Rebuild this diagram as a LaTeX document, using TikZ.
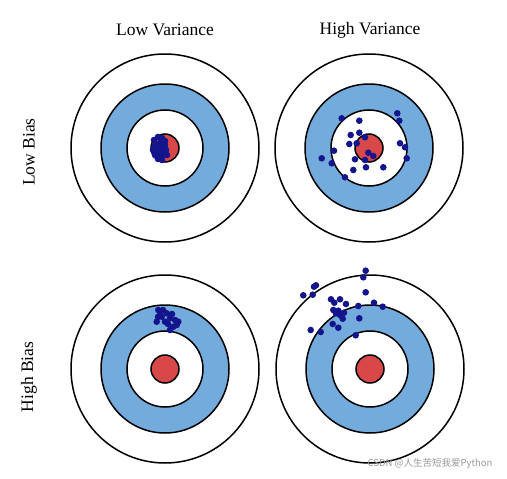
\documentclass[tikz,border=0pt]{standalone}
\usepackage{fontspec}
\setmainfont{Liberation Serif}
\newfontfamily\cjk{Noto Sans CJK SC}
\definecolor{ringblue}{HTML}{74ABDD}
\definecolor{bullred}{HTML}{D84848}
\definecolor{dotblue}{HTML}{14148C}
\definecolor{wmgray}{HTML}{9A9A9A}
\newcommand{\drawtarget}[2]{%
  \fill[white] (#1,#2) circle (94);
  \draw[ring] (#1,#2) circle (94);
  \filldraw[ring,fill=ringblue] (#1,#2) circle (64);
  \filldraw[ring,fill=white] (#1,#2) circle (38);
  \filldraw[ring,fill=bullred] (#1,#2) circle (14);
}
\begin{document}
\begin{tikzpicture}[x=1pt,y=-1pt,
  ring/.style={line width=1.5pt,draw=black},
  shot/.style={fill=dotblue},
  lbl/.style={font=\fontsize{17.5}{20}\selectfont,inner sep=0pt}]
\useasboundingbox[fill=white] (0,0) rectangle (507,479);
% titles
\node[lbl] (lv) at (165,30) {Low Variance};
\node[lbl] (hv) at (370,30) {High Variance};
\node[lbl,rotate=90] (lb) at (29,152) {Low Bias};
\node[lbl,rotate=90] (hb) at (29,377) {High Bias};
% targets
\drawtarget{165}{148}
\drawtarget{369}{148}
\drawtarget{165}{369}
\drawtarget{370}{369}
% top-left: tight cluster
\foreach \x/\y in {154/140,158/137,162/138,165/141,156/145,160/143,164/146,153/150,157/151,161/150,166/150,155/155,159/156,163/155,167/155,158/159,162/160,154/147,160/147,165/145}
  \fill[shot] (\x,\y) circle (3.3);
% top-right: spread cluster
\foreach \x/\y in {341.7/118.3,359.3/120.7,397.3/113.3,399.3/120.7,350.7/135,359.3/132.7,365/137.3,349.3/144,356.7/143.3,400/143.3,405/147.3,334/150.7,368.3/152.7,373.3/156,321.7/158.3,406.7/158.3,355/159.3,365/160,331.7/163.3,366/167.3,383.3/167.3,353.3/170,345/177.3}
  \fill[shot] (\x,\y) circle (3.3);
% bottom-left: tight, off centre
\foreach \x/\y in {158.3/310,156.7/321.7,166.7/313.3,170/318.3,175/320,178.3/321.7,173.3/326.7,170/330,161.7/316.7,160/315,165/321.7,176.7/325,163/310,158/317,168/324,172/314}
  \fill[shot] (\x,\y) circle (3.3);
% bottom-right: spread, off centre
\foreach \x/\y in {365.7/270.7,363.3/277.3,316/285.3,314/286.7,303.3/295.3,312.7/294.7,365.7/292.3,331/299.3,340/299.3,334.3/302.7,346/304,358.3/306,374/302.7,382.7/306.7,333.3/310,338.3/310.7,344/312.7,336/313.3,340/315,342.7/318.7,359.3/318.3,332.7/324,338.3/327.7,310.7/330,320.7/332,355.7/335.3}
  \fill[shot] (\x,\y) circle (3.3);
% watermark
\node[inner sep=0pt,text=wmgray,font=\cjk\fontsize{9.5}{11}\selectfont] (wm) at (430,464) {CSDN @人生苦短我爱Python};
\end{tikzpicture}
\end{document}
